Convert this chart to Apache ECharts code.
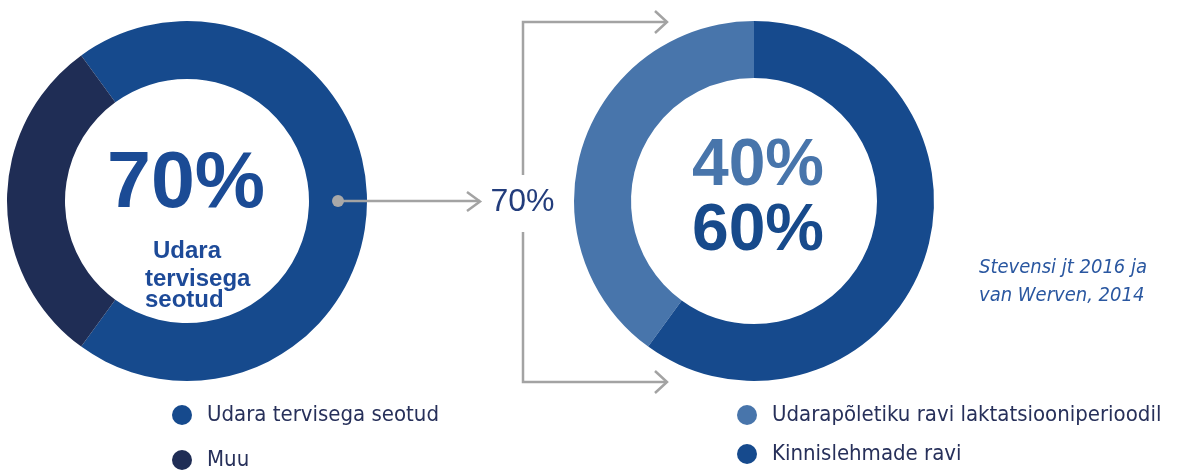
<!DOCTYPE html>
<html>
<head>
<meta charset="utf-8">
<script src="https://cdn.jsdelivr.net/npm/echarts@6/dist/echarts.min.js"></script>
<style>
  html, body { margin: 0; padding: 0; background: #ffffff; }
  #chart { width: 1177px; height: 471px; }
</style>
</head>
<body>
<div id="chart"></div>
<script>
// ---- data ----
const leftCategories = ['Udara tervisega seotud', 'Muu'];
const leftValues = [70, 30];
const rightCategories = ['Udarapõletiku ravi laktatsiooniperioodil', 'Kinnislehmade ravi'];
const rightValues = [40, 60];
const transferLabel = '70%';
const centerCaption = ['Udara', 'tervisega', 'seotud'];
const citation = ['Stevensi jt 2016 ja', 'van Werven, 2014'];

// ---- styles ----
const leftColors = ['#164a8d', '#1f2d55'];
const rightColors = ['#4875ab', '#164a8d'];
const gray = '#a3a3a3';
const legendFont = "'DejaVu Sans Condensed', 'Liberation Sans', sans-serif";
const numFont = "'Liberation Sans', Arial, sans-serif";

const chart = echarts.init(document.getElementById('chart'), null, { renderer: 'canvas' });

function pieData(cats, vals, colors) {
  return cats.map((c, i) => ({ name: c, value: vals[i], itemStyle: { color: colors[i] } }));
}

const legendText = { color: '#27305a', fontSize: 22, fontFamily: legendFont, lineHeight: 20, padding: [0, 0, 0, 10] };

function legendItem(name, left, centerY) {
  return {
    data: [name], orient: 'horizontal', left: left, top: centerY - 10, padding: 0,
    icon: 'circle', itemWidth: 20, itemHeight: 20,
    selectedMode: false, textStyle: legendText
  };
}

const lineStyle = { stroke: gray, lineWidth: 2.5, fill: null };

const option = {
  backgroundColor: '#ffffff',
  animation: false,
  legend: [
    legendItem(leftCategories[0], 172, 414),
    legendItem(leftCategories[1], 172, 459),
    legendItem(rightCategories[0], 737, 414),
    legendItem(rightCategories[1], 737, 453)
  ],
  series: [
    {
      type: 'pie', center: [187, 201], radius: [122, 180],
      startAngle: 126, clockwise: true, silent: true,
      label: { show: false }, labelLine: { show: false }, emphasis: { disabled: true },
      data: pieData(leftCategories, leftValues, leftColors)
    },
    {
      type: 'pie', center: [754, 201], radius: [123, 180],
      startAngle: 90, clockwise: false, silent: true,
      label: { show: false }, labelLine: { show: false }, emphasis: { disabled: true },
      data: pieData(rightCategories, rightValues, rightColors)
    }
  ],
  graphic: [
    // big centre number, left donut
    { type: 'text', x: 186, y: 185, style: { text: leftValues[0] + '%', fontSize: 79, fontWeight: 'bold', fontFamily: numFont, fill: '#1b4b95', align: 'center', verticalAlign: 'middle' } },
    { type: 'text', x: 153, y: 251, style: { text: centerCaption[0], fontSize: 24, fontWeight: 'bold', fontFamily: numFont, fill: '#1d4a98', align: 'left', verticalAlign: 'middle' } },
    { type: 'text', x: 145, y: 279, style: { text: centerCaption[1], fontSize: 24, fontWeight: 'bold', fontFamily: numFont, fill: '#1d4a98', align: 'left', verticalAlign: 'middle' } },
    { type: 'text', x: 145, y: 300, style: { text: centerCaption[2], fontSize: 24, fontWeight: 'bold', fontFamily: numFont, fill: '#1d4a98', align: 'left', verticalAlign: 'middle' } },
    // right donut numbers
    { type: 'text', x: 758, y: 167, style: { text: rightValues[0] + '%', fontSize: 66, fontWeight: 'bold', fontFamily: numFont, fill: rightColors[0], align: 'center', verticalAlign: 'middle' } },
    { type: 'text', x: 758, y: 232, style: { text: rightValues[1] + '%', fontSize: 66, fontWeight: 'bold', fontFamily: numFont, fill: '#174a8b', align: 'center', verticalAlign: 'middle' } },
    // arrow from left donut
    { type: 'circle', shape: { cx: 338, cy: 201, r: 6 }, style: { fill: '#a8a8a8' }, z: 10 },
    { type: 'line', shape: { x1: 338, y1: 201, x2: 480, y2: 201 }, style: lineStyle, z: 9 },
    { type: 'polyline', shape: { points: [[467, 192], [480, 201.5], [467, 211]] }, style: lineStyle },
    { type: 'text', x: 522.5, y: 202, style: { text: transferLabel, fontSize: 32, fontFamily: numFont, fill: '#233d7c', align: 'center', verticalAlign: 'middle' } },
    // bracket
    { type: 'polyline', shape: { points: [[523, 175], [523, 22], [667, 22]] }, style: lineStyle },
    { type: 'polyline', shape: { points: [[655, 11], [667, 22], [655, 33]] }, style: lineStyle },
    { type: 'polyline', shape: { points: [[523, 232], [523, 382], [667, 382]] }, style: lineStyle },
    { type: 'polyline', shape: { points: [[655, 371], [667, 382], [655, 393]] }, style: lineStyle },
    // citation
    { type: 'text', x: 979, y: 268, style: { text: citation[0], fontSize: 20, fontStyle: 'italic', fontFamily: legendFont, fill: '#2a57a0', align: 'left', verticalAlign: 'middle' } },
    { type: 'text', x: 979, y: 296, style: { text: citation[1], fontSize: 20, fontStyle: 'italic', fontFamily: legendFont, fill: '#2a57a0', align: 'left', verticalAlign: 'middle' } }
  ]
};

chart.setOption(option);
</script>
</body>
</html>
